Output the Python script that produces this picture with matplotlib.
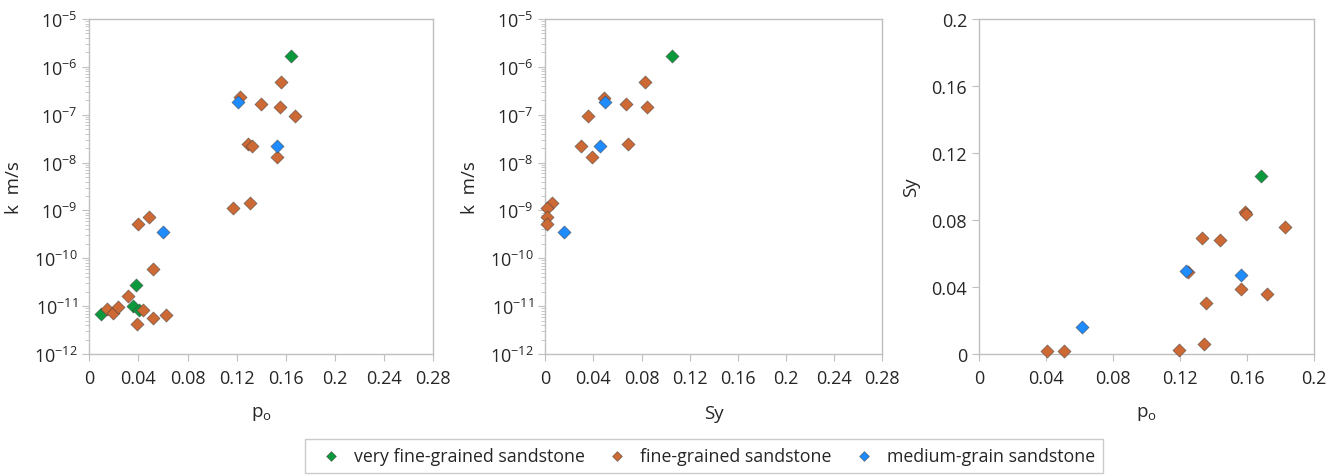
import matplotlib
matplotlib.use("Agg")
import matplotlib.pyplot as plt
from matplotlib.ticker import FixedLocator, FuncFormatter, LogLocator, NullFormatter

plt.rcParams["font.family"] = ["Open Sans", "DejaVu Sans"]
plt.rcParams["mathtext.default"] = "regular"
plt.rcParams["axes.unicode_minus"] = False

GREEN = "#0a9a3c"
ORANGE = "#cd6934"
BLUE = "#1e8bff"
GRID_GREY = "#bfbfbf"
TEXT = "#262626"

# porosity vs hydraulic conductivity
po_k_vf = [0.164, 0.0378, 0.0353, 0.0407, 0.0095]
k_po_vf = [1.66e-6, 2.8e-11, 1.0e-11, 8.4e-12, 6.9e-12]
po_k_f = [0.1557, 0.1226, 0.140, 0.155, 0.1674, 0.1294, 0.1321, 0.153, 0.1167,
          0.1308, 0.0399, 0.0488, 0.0516, 0.0315, 0.0434, 0.0142, 0.0195,
          0.0236, 0.0391, 0.0521, 0.0622]
k_po_f = [4.9e-7, 2.3e-7, 1.68e-7, 1.43e-7, 9.6e-8, 2.5e-8, 2.2e-8, 1.3e-8, 1.15e-9,
          1.44e-9, 5.2e-10, 7.2e-10, 6.1e-11, 1.6e-11, 8.4e-12, 8.8e-12, 7.3e-12,
          9.6e-12, 4.15e-12, 5.65e-12, 6.6e-12]
po_k_m = [0.1207, 0.1525, 0.0602]
k_po_m = [1.88e-7, 2.2e-8, 3.6e-10]

# specific yield vs hydraulic conductivity
sy_k_vf = [0.1053]
k_sy_vf = [1.66e-6]
sy_k_f = [0.0828, 0.0488, 0.0673, 0.0842, 0.0355, 0.0297, 0.0687, 0.0385, 0.0058,
          0.0017, 0.0017, 0.0017]
k_sy_f = [4.9e-7, 2.2e-7, 1.68e-7, 1.43e-7, 9.6e-8, 2.2e-8, 2.5e-8, 1.3e-8, 1.4e-9,
          1.15e-9, 7.2e-10, 5.2e-10]
sy_k_m = [0.0493, 0.0457, 0.0158]
k_sy_m = [1.88e-7, 2.2e-8, 3.6e-10]

# porosity vs specific yield
po_sy_vf = [0.1686]
sy_po_vf = [0.106]
po_sy_f = [0.1587, 0.1596, 0.183, 0.1332, 0.1439, 0.1249, 0.1567, 0.1718, 0.1354,
           0.0406, 0.0505, 0.1197, 0.1342]
sy_po_f = [0.0848, 0.0838, 0.0759, 0.0695, 0.0679, 0.0491, 0.0387, 0.036, 0.0304,
           0.002, 0.0018, 0.0024, 0.0062]
po_sy_m = [0.1239, 0.1563, 0.0616]
sy_po_m = [0.0495, 0.0469, 0.0159]

labels = ["very fine-grained sandstone", "fine-grained sandstone", "medium-grain sandstone"]


def dec(v, _pos):
    return "0" if v == 0 else f"{v:g}"


def style(ax, xmax, ymax=None, log=False):
    for side in ax.spines.values():
        side.set_color(GRID_GREY)
        side.set_linewidth(1.0)
    ax.tick_params(which="both", direction="out", color=GRID_GREY, labelcolor=TEXT,
                   labelsize=13, top=False, right=False)
    ax.tick_params(which="major", length=5)
    ax.tick_params(axis="x", pad=6)
    ax.set_xlim(0, xmax)
    ticks = [round(0.04 * i, 2) for i in range(int(round(xmax / 0.04)) + 1)]
    ax.xaxis.set_major_locator(FixedLocator(ticks))
    ax.xaxis.set_major_formatter(FuncFormatter(dec))
    if log:
        ax.set_yscale("log")
        ax.set_ylim(1e-12, 1e-5)
        ax.yaxis.set_major_locator(LogLocator(base=10, numticks=20))
        ax.yaxis.set_minor_locator(LogLocator(base=10, subs=range(2, 10), numticks=20))
        ax.yaxis.set_minor_formatter(NullFormatter())
        ax.tick_params(axis="y", which="minor", length=3)
    else:
        ax.set_ylim(0, ymax)
        yt = [round(0.04 * i, 2) for i in range(int(round(ymax / 0.04)) + 1)]
        ax.yaxis.set_major_locator(FixedLocator(yt))
        ax.yaxis.set_major_formatter(FuncFormatter(dec))


def scatter3(ax, series):
    for (x, y), c, lab in zip(series, [GREEN, ORANGE, BLUE], labels):
        ax.scatter(x, y, marker="D", s=44, color=c, edgecolors=(0.25, 0.25, 0.25, 0.6),
                   linewidths=0.6, label=lab, zorder=3, clip_on=False)


fig = plt.figure(figsize=(13.41, 4.77), dpi=100)
ax1 = fig.add_axes([0.0666, 0.2558, 0.2565, 0.7023])
ax2 = fig.add_axes([0.4066, 0.2558, 0.2513, 0.7023])
ax3 = fig.add_axes([0.7300, 0.2558, 0.2498, 0.7023])

scatter3(ax1, [(po_k_vf, k_po_vf), (po_k_f, k_po_f), (po_k_m, k_po_m)])
style(ax1, 0.28, log=True)
ax1.set_xlabel("p$_{o}$", fontsize=13.5, color=TEXT, labelpad=12)
ax1.set_ylabel("k  m/s", fontsize=13.5, color=TEXT, labelpad=8)

scatter3(ax2, [(sy_k_vf, k_sy_vf), (sy_k_f, k_sy_f), (sy_k_m, k_sy_m)])
style(ax2, 0.28, log=True)
ax2.set_xlabel("Sy", fontsize=13.5, color=TEXT, labelpad=12)
ax2.set_ylabel("k  m/s", fontsize=13.5, color=TEXT, labelpad=8)

scatter3(ax3, [(po_sy_vf, sy_po_vf), (po_sy_f, sy_po_f), (po_sy_m, sy_po_m)])
style(ax3, 0.2, ymax=0.2)
ax3.set_xlabel("p$_{o}$", fontsize=13.5, color=TEXT, labelpad=12)
ax3.set_ylabel("Sy", fontsize=13.5, color=TEXT, labelpad=8)

handles, labs = ax1.get_legend_handles_labels()
leg = fig.legend(handles, labs, loc="lower center", bbox_to_anchor=(0.525, -0.012), ncol=3,
                 fontsize=12.8, frameon=True, fancybox=False, markerscale=0.75,
                 handletextpad=0.3, columnspacing=0.8, borderpad=0.45)
leg.get_frame().set_edgecolor(GRID_GREY)
leg.get_frame().set_linewidth(1.0)
for t in leg.get_texts():
    t.set_color(TEXT)

fig.savefig("out.png", dpi=100)
